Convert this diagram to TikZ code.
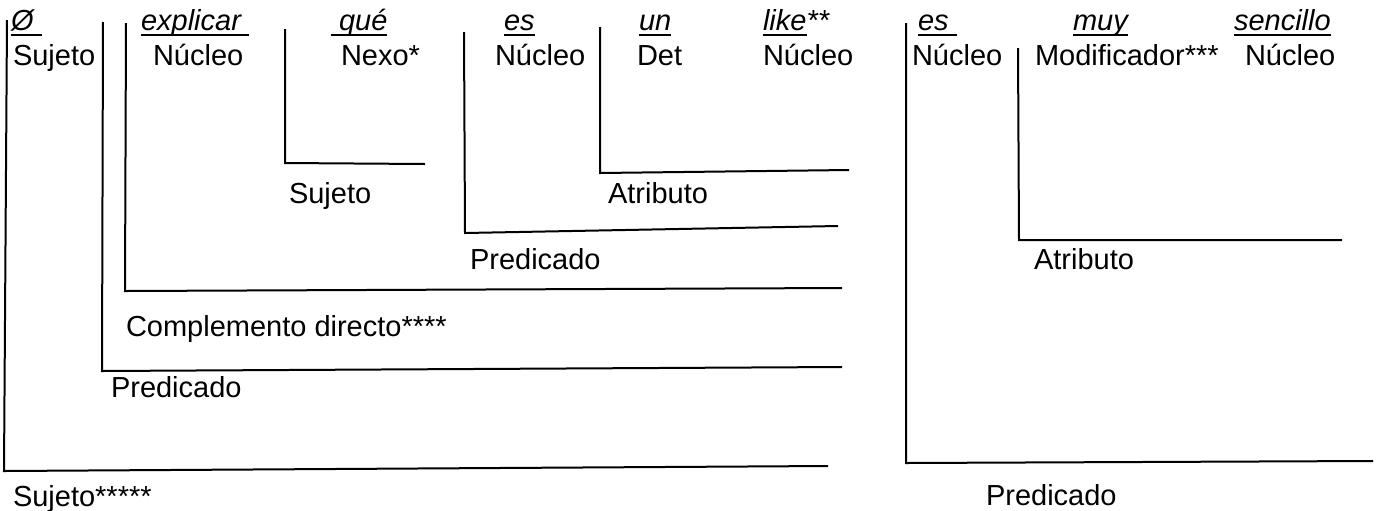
\documentclass[tikz,border=0pt]{standalone}
\usepackage{fontspec}
\setmainfont{Liberation Sans}
\usetikzlibrary{positioning}

% underline at a fixed depth, so it runs through the descenders
\newsavebox{\ulbox}
\newcommand{\ulword}[1]{\sbox{\ulbox}{#1}\rlap{\rule[-3pt]{\wd\ulbox}{1.2pt}}\usebox{\ulbox}}

\begin{document}
\begin{tikzpicture}[
    x=0.5pt, y=-0.5pt,
    line width=1pt,
    word node/.style={inner sep=0pt,anchor=base west,font=\fontsize{14.5}{16}\selectfont\itshape},
    role node/.style={inner sep=0pt,font=\fontsize{14.5}{16}\selectfont},
    bracket/.style={line width=1pt,line join=miter}
]
\useasboundingbox (0,0) rectangle (1376,510);

% Words
\node[word node] at (10,30) (phi) {\ulword{Ø\ }};
\node[word node] at (140,30) (explicar) {\ulword{explicar\ }};
\node[word node] at (330,30) (que) {\ulword{\ qué}};
\node[word node] at (503,30) (es) {\ulword{es}};
\node[word node] at (638,30) (un) {\ulword{un}};
\node[word node] at (762,30) (like) {\ulword{like}**};
\node[word node] at (917,30) (es2) {\ulword{es\ }};
\node[word node] at (1072,30) (muy) {\ulword{muy}};
\node[word node] at (1233,30) (sencillo) {\ulword{sencillo}};

% Functions under the words
\node[role node, below=17.5pt of phi.base west, anchor=base west, xshift=1pt] (phi role) {Sujeto};
\node[role node, below=17.5pt of explicar.base west, anchor=base west, xshift=6pt] (explicar role) {Núcleo};
\node[role node, below=17.5pt of que.base west, anchor=base west, xshift=5pt] (que role) {Nexo*};
\node[role node, below=17.5pt of es.base west, anchor=base west, xshift=-4.5pt] (es role) {Núcleo};
\node[role node, below=17.5pt of un.base west, anchor=base west, xshift=-1pt] (un role) {Det};
\node[role node, below=17.5pt of like.base west, anchor=base west] (like role) {Núcleo};
\node[role node, below=17.5pt of es2.base west, anchor=base west, xshift=-3pt] (es2 role) {Núcleo};
\node[role node, below=17.5pt of muy.base west, anchor=base west, xshift=-19pt] (muy role) {Modificador***};
\node[role node, below=17.5pt of sencillo.base west, anchor=base west, xshift=5.5pt] (sencillo role) {Núcleo};

% Brackets: top, corner, end
\coordinate (sujeto top) at (7,20);
\coordinate (sujeto) at (4,471);
\coordinate (sujeto end) at (828,466);
\coordinate (pred top) at (103,22);
\coordinate (pred) at (102,371);
\coordinate (pred end) at (842,367);
\coordinate (cd top) at (126,23);
\coordinate (cd) at (125,291);
\coordinate (cd end) at (842,288);
\coordinate (sujq top) at (285,29);
\coordinate (sujq) at (285,163);
\coordinate (sujq end) at (425,164);
\coordinate (predq top) at (464,32);
\coordinate (predq) at (465,233);
\coordinate (predq end) at (838,226);
\coordinate (atr top) at (600,27);
\coordinate (atr) at (600,173);
\coordinate (atr end) at (849,170);
\coordinate (pred2 top) at (906,23);
\coordinate (pred2) at (906,463);
\coordinate (pred2 end) at (1373,461);
\coordinate (atr2 top) at (1018,48);
\coordinate (atr2) at (1019,240);
\coordinate (atr2 end) at (1342,240);

\draw[bracket] (sujeto top) -- (sujeto) -- (sujeto end);
\draw[bracket] (pred top) -- (pred) -- (pred end);
\draw[bracket] (cd top) -- (cd) -- (cd end);
\draw[bracket] (sujq top) -- (sujq) -- (sujq end);
\draw[bracket] (predq top) -- (predq) -- (predq end);
\draw[bracket] (atr top) -- (atr) -- (atr end);
\draw[bracket] (pred2 top) -- (pred2) -- (pred2 end);
\draw[bracket] (atr2 top) -- (atr2) -- (atr2 end);

% Bracket labels
\node[role node, below=17.5pt of sujeto, anchor=base west, xshift=4pt] (sujeto label) {Sujeto*****};
\node[role node, below=13pt of pred, anchor=base west, xshift=4pt] (pred label) {Predicado};
\node[role node, below=22.5pt of cd, anchor=base west] (cd label) {Complemento directo****};
\node[role node, below=20pt of sujq, anchor=base west, xshift=1.5pt] (sujq label) {Sujeto};
\node[role node, below=18pt of predq, anchor=base west, xshift=2pt] (predq label) {Predicado};
\node[role node, below=15pt of atr, anchor=base west, xshift=3.5pt] (atr label) {Atributo};
\node[role node, below=21pt of pred2, anchor=base west, xshift=39.5pt] (pred2 label) {Predicado};
\node[role node, below=14.5pt of atr2, anchor=base west, xshift=7pt] (atr2 label) {Atributo};

\end{tikzpicture}
\end{document}
